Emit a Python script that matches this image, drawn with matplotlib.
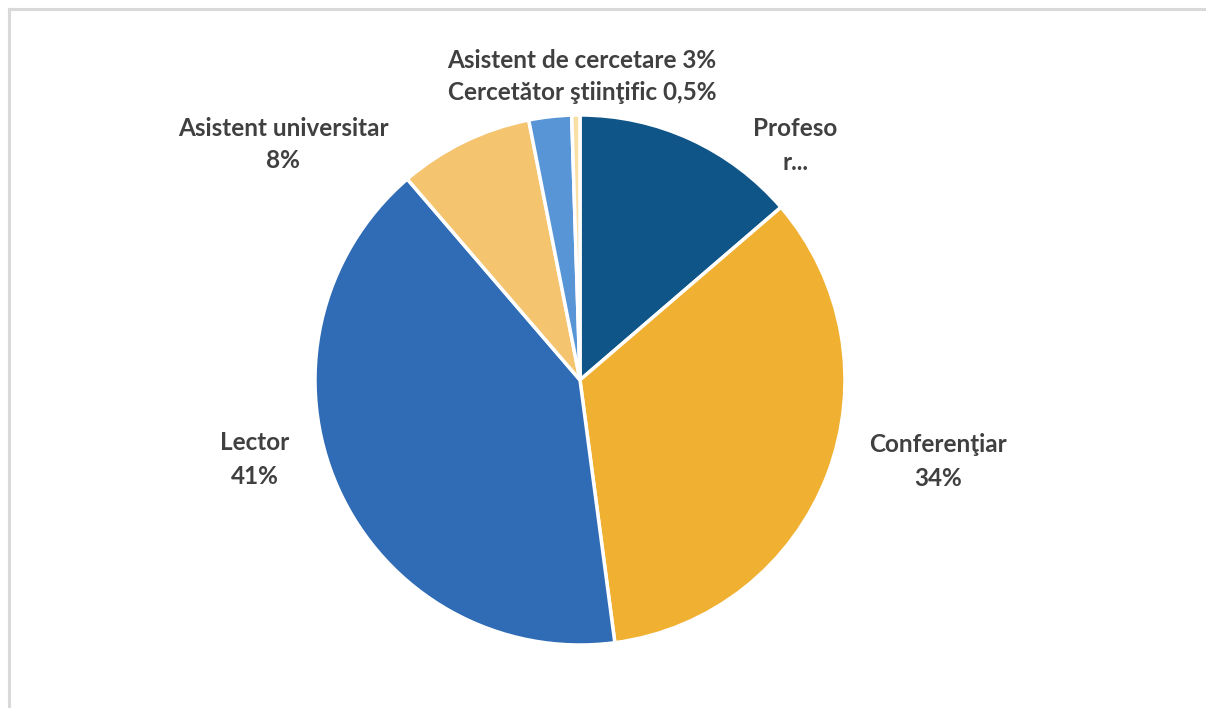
import matplotlib
matplotlib.use("Agg")
import matplotlib.pyplot as plt
from matplotlib.lines import Line2D

categories = ["Profesor", "Conferenţiar", "Lector", "Asistent universitar",
              "Asistent de cercetare", "Cercetător ştiinţific"]
values = [13.7, 34.2, 40.8, 8.2, 2.6, 0.5]
pct_labels = ["", "34%", "41%", "8%", "3%", "0,5%"]
colors = ["#0F5588", "#F0B031", "#2F6CB5", "#F4C46F", "#5795D6", "#F8DFA6"]

W, H = 1206, 708
fig = plt.figure(figsize=(W / 100, H / 100), dpi=100)
ax = fig.add_axes([0, 0, 1, 1])

# frame
fig.add_artist(Line2D([9 / W, 9 / W], [0, 1 - 9 / H], transform=fig.transFigure, color="#D9D9D9", lw=2.2))
fig.add_artist(Line2D([9 / W, 1], [1 - 9 / H, 1 - 9 / H], transform=fig.transFigure, color="#D9D9D9", lw=2.2))

cx, cy, r = 580, 380, 265
# y axis is inverted below, so startangle=-90 with counterclock=True shows as
# starting at top and running clockwise on screen
ax.pie(values, colors=colors, startangle=-90, counterclock=True,
       center=(cx, cy), radius=r, frame=True,
       wedgeprops=dict(edgecolor="white", linewidth=2.5))
ax.set_xlim(0, W)
ax.set_ylim(H, 0)
ax.set_aspect("equal")
ax.axis("off")

tk = dict(fontsize=17.5, fontweight="bold", color="#404040", ha="center", va="center",
          family=["Lato", "DejaVu Sans"])
ax.text(795, 128, "Profeso", **tk)
ax.text(795, 162, "r...", **tk)
ax.text(938, 445, categories[1], **tk)
ax.text(938, 478, pct_labels[1], **tk)
ax.text(255, 443, categories[2], **tk)
ax.text(255, 476, pct_labels[2], **tk)
ax.text(283, 128, categories[3], **tk)
ax.text(283, 160, pct_labels[3], **tk)
ax.text(582, 60, f"{categories[4]} {pct_labels[4]}", **tk)
ax.text(582, 93, f"{categories[5]} {pct_labels[5]}", **tk)

fig.savefig("out.png", dpi=100, facecolor="white")
